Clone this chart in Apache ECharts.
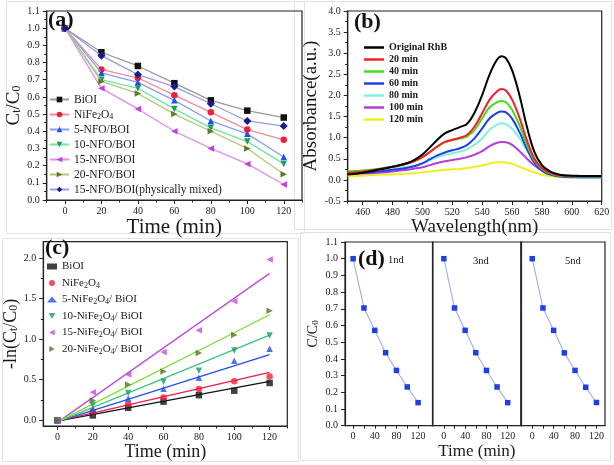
<!DOCTYPE html>
<html><head><meta charset="utf-8">
<script src="https://cdn.jsdelivr.net/npm/echarts@6/dist/echarts.min.js"></script>
<style>html,body{margin:0;padding:0;background:#fff}#c{width:614px;height:465px}</style>
</head><body><div id="c"></div>
<script>
// ---------- (a) Ct/C0 vs time ----------
const timeA = [0, 20, 40, 60, 80, 100, 120];
const aBiOI = [1.0, 0.86, 0.78, 0.68, 0.58, 0.52, 0.48];
const aNiFe = [1.0, 0.76, 0.71, 0.61, 0.51, 0.41, 0.35];
const a5 = [1.0, 0.74, 0.685, 0.58, 0.46, 0.385, 0.25];
const a10 = [1.0, 0.70, 0.65, 0.53, 0.42, 0.34, 0.21];
const a15 = [1.0, 0.65, 0.53, 0.40, 0.30, 0.21, 0.09];
const a20 = [1.0, 0.69, 0.62, 0.50, 0.40, 0.30, 0.15];
const aMix = [1.0, 0.84, 0.73, 0.66, 0.56, 0.46, 0.43];
const aNames = ['BiOI', 'NiFe2O4', '5-NFO/BOI', '10-NFO/BOI', '15-NFO/BOI', '20-NFO/BOI', '15-NFO/BOI(physically mixed)'];
const aXLabels = [0, 20, 40, 60, 80, 100, 120];
const aXMinor = [-10, 10, 30, 50, 70, 90, 110, 130];

// ---------- (b) absorbance spectra ----------
const wl = [450, 460, 470, 480, 490, 495, 500, 505, 510, 515, 520, 525, 530, 535, 540, 545, 550, 553, 556, 560, 565, 570, 575, 580, 585, 590, 595, 600, 610, 620];
const bOrig = [0.13, 0.17, 0.24, 0.31, 0.40, 0.48, 0.60, 0.77, 0.95, 1.10, 1.18, 1.25, 1.33, 1.60, 2.01, 2.50, 2.85, 2.93, 2.88, 2.60, 2.00, 1.25, 0.66, 0.35, 0.21, 0.14, 0.11, 0.10, 0.09, 0.09];
const b20 = [0.17, 0.20, 0.25, 0.31, 0.39, 0.45, 0.54, 0.66, 0.79, 0.90, 0.95, 1.00, 1.07, 1.27, 1.58, 1.90, 2.10, 2.15, 2.11, 1.90, 1.47, 0.93, 0.50, 0.28, 0.17, 0.12, 0.10, 0.09, 0.09, 0.09];
const b40 = [0.20, 0.22, 0.26, 0.31, 0.39, 0.45, 0.54, 0.66, 0.79, 0.89, 0.94, 0.98, 1.03, 1.19, 1.46, 1.72, 1.84, 1.87, 1.84, 1.66, 1.29, 0.83, 0.46, 0.26, 0.16, 0.11, 0.09, 0.08, 0.08, 0.08];
const b60 = [0.16, 0.17, 0.20, 0.24, 0.29, 0.33, 0.39, 0.49, 0.58, 0.65, 0.70, 0.75, 0.83, 0.99, 1.22, 1.46, 1.59, 1.62, 1.60, 1.45, 1.13, 0.73, 0.40, 0.22, 0.13, 0.09, 0.07, 0.06, 0.06, 0.06];
const b80 = [0.20, 0.21, 0.24, 0.27, 0.31, 0.34, 0.39, 0.46, 0.54, 0.59, 0.63, 0.67, 0.73, 0.84, 0.98, 1.19, 1.31, 1.34, 1.32, 1.21, 0.99, 0.70, 0.45, 0.28, 0.18, 0.12, 0.10, 0.09, 0.08, 0.08];
const b100 = [0.14, 0.15, 0.17, 0.20, 0.24, 0.27, 0.30, 0.35, 0.40, 0.44, 0.47, 0.50, 0.54, 0.60, 0.68, 0.80, 0.88, 0.90, 0.89, 0.83, 0.68, 0.50, 0.34, 0.22, 0.15, 0.10, 0.08, 0.07, 0.06, 0.06];
const b120 = [0.09, 0.10, 0.12, 0.13, 0.15, 0.16, 0.18, 0.20, 0.22, 0.24, 0.25, 0.26, 0.28, 0.31, 0.34, 0.39, 0.42, 0.42, 0.41, 0.38, 0.31, 0.24, 0.18, 0.12, 0.09, 0.07, 0.06, 0.06, 0.06, 0.06];
const bNames = ['Original RhB', '20 min', '40 min', '60 min', '80 min', '100 min', '120 min'];
const bXLabels = [460, 480, 500, 520, 540, 560, 580, 600, 620];
const bXMinor = [450, 470, 490, 510, 530, 550, 570, 590, 610];

// ---------- (c) -ln(Ct/C0) ----------
const timeC = [0, 20, 40, 60, 80, 100, 120];
const cBiOI = [0, 0.06, 0.155, 0.23, 0.31, 0.365, 0.46];
const cNiFe = [0, 0.11, 0.20, 0.28, 0.385, 0.48, 0.54];
const c5 = [0, 0.14, 0.27, 0.39, 0.525, 0.735, 0.88];
const c10 = [0, 0.19, 0.335, 0.475, 0.61, 0.86, 1.045];
const c15 = [0, 0.345, 0.565, 0.84, 1.11, 1.465, 1.98];
const c20 = [0, 0.245, 0.44, 0.60, 0.83, 1.05, 1.35];
const fitT = [0, 120];
const fBiOI = [-0.01, 0.48];
const fNiFe = [-0.01, 0.59];
const f5 = [-0.015, 0.81];
const f10 = [-0.02, 1.05];
const f15 = [-0.025, 1.81];
const f20 = [-0.02, 1.30];
const cNames = ['BiOI', 'NiFe2O4', '5-NiFe2O4/ BiOI', '10-NiFe2O4/ BiOI', '15-NiFe2O4/ BiOI', '20-NiFe2O4/ BiOI'];
const cYLabels = [0, 0.5, 1.0, 1.5, 2.0];
const cYMinor = [0.25, 0.75, 1.25, 1.75];

// ---------- (d) cycling ----------
const timeD = [0, 20, 40, 60, 80, 100, 120];
const d1 = [1.0, 0.705, 0.571, 0.437, 0.331, 0.232, 0.138];
const d3 = [1.0, 0.705, 0.571, 0.437, 0.331, 0.232, 0.138];
const d5 = [1.0, 0.705, 0.571, 0.436, 0.331, 0.230, 0.139];
const dRuns = ['1nd', '3nd', '5nd'];
const dXLabels = [0, 40, 80, 120];
const dXTicks = [0, 20, 40, 60, 80, 100, 120];

// ================= build =================
const FONT = 'Liberation Serif';
const INK = '#1a1a1a';
const zip = (xs, ys) => xs.map((x, i) => [x, ys[i]]);
const sub = {fontSize: 8, fontFamily: FONT, color: INK, verticalAlign: 'bottom', lineHeight: 9};

function mainAxis(gridIndex, min, max, position, opt) {
  return Object.assign({
    type: 'value', gridIndex, min, max, position,
    axisLine: {show: true, onZero: false, lineStyle: {color: '#222', width: 1.2}},
    axisTick: {show: true, length: 4, lineStyle: {color: '#222', width: 1}},
    axisLabel: {fontFamily: FONT, fontSize: 10, color: INK, margin: 7},
    splitLine: {show: false}
  }, opt);
}
function minorAxis(gridIndex, min, max, position, vals) {
  return {
    type: 'value', gridIndex, min, max, position, offset: 0,
    axisLine: {show: false, onZero: false},
    axisTick: {show: true, length: 2.5, customValues: vals, lineStyle: {color: '#222', width: 1}},
    axisLabel: {show: false}, splitLine: {show: false}
  };
}
const nameStyle = (fs) => ({fontFamily: FONT, fontSize: fs, color: INK, rich: {s: Object.assign({}, sub, {fontSize: Math.round(fs * 0.65), lineHeight: Math.round(fs * 0.7)})}});

const grids = [
  {left: 46.7, top: 11, width: 255.3, height: 189},
  {left: 347.7, top: 11, width: 254, height: 190},
  {left: 43.3, top: 241.7, width: 244, height: 184.3},
  {left: 345, top: 242, width: 87.7, height: 183.7},
  {left: 432.7, top: 242, width: 88.3, height: 183.7},
  {left: 521, top: 242, width: 84, height: 183.7}
].map(g => Object.assign({show: true, borderColor: '#222', borderWidth: 1.2, backgroundColor: 'transparent'}, g));

const int0 = v => String(Math.round(v));
const f1 = v => v.toFixed(1);
const tickLbl = {fontFamily: FONT, fontSize: 10, color: INK, margin: 6};

const xAxis = [
  mainAxis(0, -10, 130, 'bottom', {
    axisTick: {show: true, length: 4, customValues: aXLabels, lineStyle: {color: '#222'}},
    axisLabel: Object.assign({customValues: aXLabels, formatter: int0}, tickLbl),
    name: 'Time (min)', nameLocation: 'middle', nameGap: 9, nameTextStyle: nameStyle(21)
  }),
  minorAxis(0, -10, 130, 'bottom', aXMinor),
  mainAxis(1, 450, 620, 'bottom', {
    axisTick: {show: true, length: 4, customValues: bXLabels, lineStyle: {color: '#222'}},
    axisLabel: Object.assign({customValues: bXLabels, formatter: int0}, tickLbl),
    name: 'Wavelength(nm)', nameLocation: 'middle', nameGap: 13, nameTextStyle: nameStyle(19)
  }),
  minorAxis(1, 450, 620, 'bottom', bXMinor),
  mainAxis(2, -8, 130, 'bottom', {
    axisTick: {show: true, length: 4, customValues: aXLabels, lineStyle: {color: '#222'}},
    axisLabel: Object.assign({customValues: aXLabels, formatter: int0}, tickLbl),
    name: 'Time (min)', nameLocation: 'middle', nameGap: 12, nameTextStyle: nameStyle(18)
  }),
  minorAxis(2, -8, 130, 'bottom', [10, 30, 50, 70, 90, 110, 130]),
  mainAxis(3, -15, 147, 'bottom', {
    axisTick: {show: true, length: 3, customValues: dXTicks, lineStyle: {color: '#222'}},
    axisLabel: Object.assign({customValues: dXLabels, formatter: int0}, tickLbl)
  }),
  mainAxis(4, -21, 145, 'bottom', {
    axisTick: {show: true, length: 3, customValues: dXTicks, lineStyle: {color: '#222'}},
    axisLabel: Object.assign({customValues: dXLabels, formatter: int0}, tickLbl),
    name: 'Time (min)', nameLocation: 'middle', nameGap: 16, nameTextStyle: nameStyle(17)
  }),
  mainAxis(5, -21, 136, 'bottom', {
    axisTick: {show: true, length: 3, customValues: dXTicks, lineStyle: {color: '#222'}},
    axisLabel: Object.assign({customValues: dXLabels, formatter: int0}, tickLbl)
  })
];

const yLbl = {fontFamily: FONT, fontSize: 10, color: INK, margin: 7};
const yAxis = [
  mainAxis(0, 0, 1.1, 'left', {
    interval: 0.1,
    minorTick: {show: true, splitNumber: 2, length: 2.5, lineStyle: {color: '#222'}},
    axisLabel: Object.assign({formatter: f1}, yLbl),
    name: 'C{s|t}/C{s|0}', nameLocation: 'middle', nameGap: 19, nameTextStyle: nameStyle(19)
  }),
  mainAxis(1, -0.5, 4.0, 'left', {
    interval: 0.5,
    minorTick: {show: true, splitNumber: 2, length: 2.5, lineStyle: {color: '#222'}},
    axisLabel: Object.assign({formatter: f1}, yLbl),
    name: 'Absorbance(a.u.)', nameLocation: 'middle', nameGap: 22, nameTextStyle: nameStyle(19)
  }),
  mainAxis(2, -0.07, 2.2, 'left', {
    axisTick: {show: true, length: 4, customValues: cYLabels, lineStyle: {color: '#222'}},
    axisLabel: Object.assign({customValues: cYLabels, formatter: f1}, yLbl),
    name: '-ln(C{s|t}/C{s|0})', nameLocation: 'middle', nameGap: 21, nameTextStyle: nameStyle(18)
  }),
  minorAxis(2, -0.07, 2.2, 'left', cYMinor),
  mainAxis(3, 0, 1.1, 'left', {
    interval: 0.1,
    axisLabel: Object.assign({formatter: f1}, yLbl),
    name: 'C/C{s|0}', nameLocation: 'middle', nameGap: 25, nameTextStyle: nameStyle(14)
  }),
  mainAxis(4, 0, 1.1, 'left', {interval: 0.1, axisTick: {show: false}, axisLabel: {show: false}}),
  mainAxis(5, 0, 1.1, 'left', {interval: 0.1, axisTick: {show: false}, axisLabel: {show: false}})
];

// ---- series ----
const series = [];
const aSpec = [
  [aBiOI, 'rect', 0, '#111111', '#9a9a9a'],
  [aNiFe, 'circle', 0, '#f0203c', '#f28a9a'],
  [a5, 'triangle', 0, '#2050f0', '#8a9cf2'],
  [a10, 'triangle', 180, '#1f9a60', '#6fe6a6'],
  [a15, 'triangle', 90, '#c040e0', '#e48cf0'],
  [a20, 'triangle', -90, '#627a2c', '#b8c478'],
  [aMix, 'diamond', 0, '#1a1a8c', '#9a9ae6']
];
aSpec.forEach((s, i) => {
  series.push({
    type: 'line', name: aNames[i], xAxisIndex: 0, yAxisIndex: 0,
    data: zip(timeA, s[0]), symbol: s[1], symbolRotate: s[2], symbolSize: s[1] === 'diamond' ? 8 : 6.5,
    itemStyle: {color: s[3]}, lineStyle: {color: s[4], width: 1.3}, z: 3 + i
  });
});

const bSpec = [[bOrig, '#000000'], [b20, '#ff1a2a'], [b40, '#3fe01a'], [b60, '#1f3fe6'], [b80, '#80f2e0'], [b100, '#b23fd8'], [b120, '#eef01c']];
bSpec.forEach((s, i) => {
  series.push({
    type: 'line', name: bNames[i], xAxisIndex: 2, yAxisIndex: 1,
    data: zip(wl, s[0]), smooth: 0.4, symbol: 'none',
    itemStyle: {color: s[1]}, lineStyle: {color: s[1], width: 2}, z: 10 - i
  });
});

const cIds = ['BiOI (c)', 'NiFe2O4 (c)', '5-NiFe2O4/ BiOI', '10-NiFe2O4/ BiOI', '15-NiFe2O4/ BiOI', '20-NiFe2O4/ BiOI'];
const cSpec = [
  [cBiOI, fBiOI, 'rect', 0, '#111111', '#111111'],
  [cNiFe, fNiFe, 'circle', 0, '#f0203c', '#f01c50'],
  [c5, f5, 'triangle', 0, '#2050f0', '#2050ec'],
  [c10, f10, 'triangle', 180, '#1f9a6a', '#3cc47a'],
  [c15, f15, 'triangle', 90, '#c04ae6', '#b84ee0'],
  [c20, f20, 'triangle', -90, '#5a6e2a', '#7ee02a']
];
cSpec.forEach((s, i) => {
  series.push({
    type: 'line', name: 'fit' + i, xAxisIndex: 4, yAxisIndex: 2,
    data: zip(fitT, s[1]), symbol: 'none', lineStyle: {color: s[5], width: 1.3}, z: 2
  });
});
cSpec.forEach((s, i) => {
  series.push({
    type: 'scatter', name: cIds[i], xAxisIndex: 4, yAxisIndex: 2,
    data: zip(timeC, s[0]), symbol: s[2], symbolRotate: s[3], symbolSize: 6.5,
    itemStyle: {color: s[4]}, z: 5
  });
});

[d1, d3, d5].forEach((arr, i) => {
  series.push({
    type: 'line', name: dRuns[i], xAxisIndex: 6 + i, yAxisIndex: 4 + i,
    data: zip(timeD, arr), symbol: 'rect', symbolSize: 5.5,
    itemStyle: {color: '#1f3fe6'}, lineStyle: {color: '#a3a9ef', width: 1.1}
  });
});

const aLabel = {'NiFe2O4': 'NiFe{s|2}O{s|4}'};
const cLabel = {
  'BiOI (c)': 'BiOI', 'NiFe2O4 (c)': 'NiFe{s|2}O{s|4}',
  '5-NiFe2O4/ BiOI': '5-NiFe{s|2}O{s|4}/ BiOI', '10-NiFe2O4/ BiOI': '10-NiFe{s|2}O{s|4}/ BiOI',
  '15-NiFe2O4/ BiOI': '15-NiFe{s|2}O{s|4}/ BiOI', '20-NiFe2O4/ BiOI': '20-NiFe{s|2}O{s|4}/ BiOI'
};
const cIcons = ['rect', 'circle', 'triangle',
  'path://M0,0 L10,0 L5,9 Z', 'path://M9,0 L9,10 L0,5 Z', 'path://M0,0 L0,10 L9,5 Z'];

const legend = [
  {
    data: aNames, left: 49, top: 93, orient: 'vertical', padding: 0,
    itemWidth: 19, itemHeight: 7, itemGap: 2,
    formatter: n => aLabel[n] || n,
    textStyle: {fontFamily: FONT, fontSize: 11.5, color: INK, lineHeight: 13, rich: {s: Object.assign({}, sub, {fontSize: 8})}}
  },
  {
    data: bNames.map(n => ({name: n, icon: 'rect'})), left: 364, top: 42, orient: 'vertical', padding: 0,
    itemWidth: 20, itemHeight: 2.5, itemGap: 1,
    textStyle: {fontFamily: FONT, fontSize: 10, fontWeight: 'bold', color: INK, lineHeight: 11}
  },
  {
    data: cIds.map((n, i) => ({name: n, icon: cIcons[i]})), left: 47, top: 260, orient: 'vertical', padding: 0,
    itemWidth: 10, itemHeight: 6, itemGap: 3.5,
    formatter: n => cLabel[n] || n,
    textStyle: {fontFamily: FONT, fontSize: 11, color: INK, lineHeight: 13, rich: {s: Object.assign({}, sub, {fontSize: 8})}}
  }
];

const boxStyle = {fill: 'none', stroke: '#e2e2e2', lineWidth: 1};
const txt = (t, left, top, size, bold) => ({
  type: 'text', left, top, z: 100,
  style: {text: t, fontFamily: FONT, fontSize: size, fontWeight: bold ? 'bold' : 'normal', fill: '#111'}
});
const graphic = [
  {type: 'rect', shape: {x: 6.5, y: 1.5, width: 298, height: 232}, style: boxStyle, z: -10, silent: true},
  {type: 'rect', shape: {x: 294.5, y: 1.5, width: 317, height: 228}, style: boxStyle, z: -10, silent: true},
  {type: 'rect', shape: {x: 2.5, y: 238.5, width: 296, height: 223}, style: boxStyle, z: -10, silent: true},
  {type: 'rect', shape: {x: 300.5, y: 232.5, width: 310, height: 228}, style: boxStyle, z: -10, silent: true},
  txt('(a)', 48, 9, 22, true),
  txt('(b)', 354, 11, 22, true),
  txt('(c)', 45, 237, 22, true),
  txt('(d)', 358, 248, 22, true),
  txt(dRuns[0], 388, 255, 10.5, false),
  txt(dRuns[1], 473, 256, 10.5, false),
  txt(dRuns[2], 565, 256, 10.5, false)
];

const chart = echarts.init(document.getElementById('c'), null, {renderer: 'canvas'});
chart.setOption({
  animation: false,
  backgroundColor: '#ffffff',
  textStyle: {fontFamily: FONT},
  grid: grids, xAxis, yAxis, series, legend, graphic
});
</script></body></html>
